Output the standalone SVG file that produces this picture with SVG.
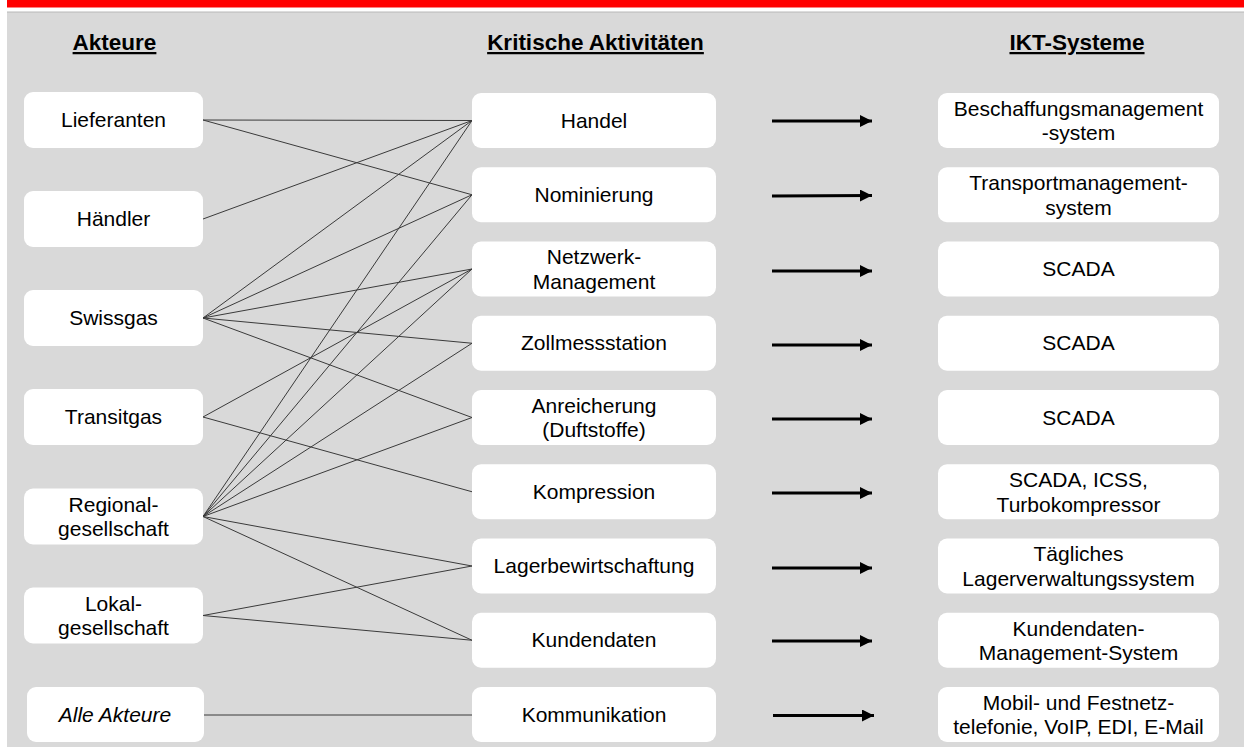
<svg xmlns="http://www.w3.org/2000/svg" width="1244" height="747" viewBox="0 0 1244 747">
<style>
.t{font-family:"Liberation Sans",Arial,sans-serif;font-size:21px;fill:#000;text-anchor:middle}
.h{font-family:"Liberation Sans",Arial,sans-serif;font-size:22.5px;font-weight:bold;fill:#000;text-anchor:middle;text-decoration:underline}
.box{fill:#fff}
.c{stroke:#3a3a3a;stroke-width:1;fill:none}
.a{stroke:#000;stroke-width:3;fill:none;marker-end:url(#ah)}
</style>
<defs>
<marker id="ah" viewBox="0 0 10 10" refX="10" refY="5" markerWidth="4" markerHeight="4" orient="auto" markerUnits="strokeWidth">
<path d="M0,0 L10,5 L0,10 z" fill="#000"/>
</marker>
</defs>
<rect x="0" y="0" width="1244" height="747" fill="#fff"/>
<rect x="7" y="0" width="1237" height="7.5" fill="#ff0000"/>
<rect x="7" y="12" width="1237" height="735" fill="#d9d9d9"/>
<line x1="7" y1="12" x2="1244" y2="12" stroke="#b8b8b8" stroke-width="1"/>
<g id="headers">
<text class="h" x="114.5" y="50">Akteure</text>
<text class="h" x="595.5" y="50">Kritische Aktivitäten</text>
<text class="h" x="1077" y="50">IKT-Systeme</text>
</g>
<g id="connectors">
<line class="c" x1="203" y1="120" x2="472" y2="120.5"/>
<line class="c" x1="203" y1="120" x2="472" y2="194.75"/>
<line class="c" x1="203" y1="219" x2="472" y2="120.5"/>
<line class="c" x1="203" y1="318" x2="472" y2="120.5"/>
<line class="c" x1="203" y1="318" x2="472" y2="194.75"/>
<line class="c" x1="203" y1="318" x2="472" y2="269"/>
<line class="c" x1="203" y1="318" x2="472" y2="343.25"/>
<line class="c" x1="203" y1="318" x2="472" y2="417.5"/>
<line class="c" x1="203" y1="417" x2="472" y2="269"/>
<line class="c" x1="203" y1="417" x2="472" y2="491.75"/>
<line class="c" x1="203" y1="516.5" x2="472" y2="120.5"/>
<line class="c" x1="203" y1="516.5" x2="472" y2="194.75"/>
<line class="c" x1="203" y1="516.5" x2="472" y2="269"/>
<line class="c" x1="203" y1="516.5" x2="472" y2="343.25"/>
<line class="c" x1="203" y1="516.5" x2="472" y2="417.5"/>
<line class="c" x1="203" y1="516.5" x2="472" y2="566"/>
<line class="c" x1="203" y1="516.5" x2="472" y2="640.25"/>
<line class="c" x1="203" y1="615.5" x2="472" y2="566"/>
<line class="c" x1="203" y1="615.5" x2="472" y2="640.25"/>
<line class="c" x1="204" y1="715" x2="473" y2="715"/>
<line class="a" x1="772" y1="121" x2="872" y2="121"/>
<line class="a" x1="772" y1="196" x2="872" y2="195.5"/>
<line class="a" x1="772" y1="271" x2="872" y2="271"/>
<line class="a" x1="772" y1="345" x2="872" y2="345"/>
<line class="a" x1="772" y1="419" x2="872" y2="419"/>
<line class="a" x1="772" y1="493" x2="872" y2="493"/>
<line class="a" x1="772" y1="568" x2="872" y2="568"/>
<line class="a" x1="772" y1="641" x2="872" y2="641"/>
<line class="a" x1="773" y1="715.5" x2="874" y2="715.5"/>
</g>
<g id="a-lieferanten"><rect class="box" x="24" y="92" width="179" height="56" rx="9"/><text class="t" x="113.5" y="127">Lieferanten</text></g>
<g id="a-haendler"><rect class="box" x="24" y="191" width="179" height="56" rx="9"/><text class="t" x="113.5" y="226">Händler</text></g>
<g id="a-swissgas"><rect class="box" x="24" y="290" width="179" height="56" rx="9"/><text class="t" x="113.5" y="325">Swissgas</text></g>
<g id="a-transitgas"><rect class="box" x="24" y="389" width="179" height="56" rx="9"/><text class="t" x="113.5" y="424">Transitgas</text></g>
<g id="a-regional"><rect class="box" x="24" y="488.5" width="179" height="56" rx="9"/><text class="t" x="113.5" y="511.5">Regional-</text><text class="t" x="113.5" y="536">gesellschaft</text></g>
<g id="a-lokal"><rect class="box" x="24" y="587.5" width="179" height="56" rx="9"/><text class="t" x="113.5" y="610.5">Lokal-</text><text class="t" x="113.5" y="635">gesellschaft</text></g>
<g id="a-alle"><rect class="box" x="27" y="687" width="177" height="55" rx="9"/><text class="t" x="115" y="722" font-style="italic">Alle Akteure</text></g>

<g id="k-handel"><rect class="box" x="472" y="93" width="244" height="55" rx="9"/><text class="t" x="594" y="127.5">Handel</text></g>
<g id="k-nominierung"><rect class="box" x="472" y="167.25" width="244" height="55" rx="9"/><text class="t" x="594" y="201.75">Nominierung</text></g>
<g id="k-netzwerk"><rect class="box" x="472" y="241.5" width="244" height="55" rx="9"/><text class="t" x="594" y="263.5">Netzwerk-</text><text class="t" x="594" y="288.5">Management</text></g>
<g id="k-zoll"><rect class="box" x="472" y="315.75" width="244" height="55" rx="9"/><text class="t" x="594" y="350.25">Zollmessstation</text></g>
<g id="k-anreicherung"><rect class="box" x="472" y="390" width="244" height="55" rx="9"/><text class="t" x="594" y="412.5">Anreicherung</text><text class="t" x="594" y="437">(Duftstoffe)</text></g>
<g id="k-kompression"><rect class="box" x="472" y="464.25" width="244" height="55" rx="9"/><text class="t" x="594" y="498.75">Kompression</text></g>
<g id="k-lager"><rect class="box" x="472" y="538.5" width="244" height="55" rx="9"/><text class="t" x="594" y="573">Lagerbewirtschaftung</text></g>
<g id="k-kunden"><rect class="box" x="472" y="612.75" width="244" height="55" rx="9"/><text class="t" x="594" y="647.25">Kundendaten</text></g>
<g id="k-kommunikation"><rect class="box" x="472" y="687" width="244" height="55" rx="9"/><text class="t" x="594" y="721.5">Kommunikation</text></g>

<g id="s-beschaffung"><rect class="box" x="938" y="93" width="281" height="55" rx="9"/><text class="t" x="1078.5" y="116">Beschaffungsmanagement</text><text class="t" x="1078.5" y="140">-system</text></g>
<g id="s-transport"><rect class="box" x="938" y="167.25" width="281" height="55" rx="9"/><text class="t" x="1078.5" y="190">Transportmanagement-</text><text class="t" x="1078.5" y="214.5">system</text></g>
<g id="s-scada1"><rect class="box" x="938" y="241.5" width="281" height="55" rx="9"/><text class="t" x="1078.5" y="276">SCADA</text></g>
<g id="s-scada2"><rect class="box" x="938" y="315.75" width="281" height="55" rx="9"/><text class="t" x="1078.5" y="350.25">SCADA</text></g>
<g id="s-scada3"><rect class="box" x="938" y="390" width="281" height="55" rx="9"/><text class="t" x="1078.5" y="424.5">SCADA</text></g>
<g id="s-icss"><rect class="box" x="938" y="464.25" width="281" height="55" rx="9"/><text class="t" x="1078.5" y="487">SCADA, ICSS,</text><text class="t" x="1078.5" y="511.5">Turbokompressor</text></g>
<g id="s-lager"><rect class="box" x="938" y="538.5" width="281" height="55" rx="9"/><text class="t" x="1078.5" y="561">Tägliches</text><text class="t" x="1078.5" y="585.5">Lagerverwaltungssystem</text></g>
<g id="s-kunden"><rect class="box" x="938" y="612.75" width="281" height="55" rx="9"/><text class="t" x="1078.5" y="635.5">Kundendaten-</text><text class="t" x="1078.5" y="660">Management-System</text></g>
<g id="s-komm"><rect class="box" x="938" y="687" width="281" height="55" rx="9"/><text class="t" x="1078.5" y="709.5">Mobil- und Festnetz-</text><text class="t" x="1078.5" y="734">telefonie, VoIP, EDI, E-Mail</text></g>
</svg>
